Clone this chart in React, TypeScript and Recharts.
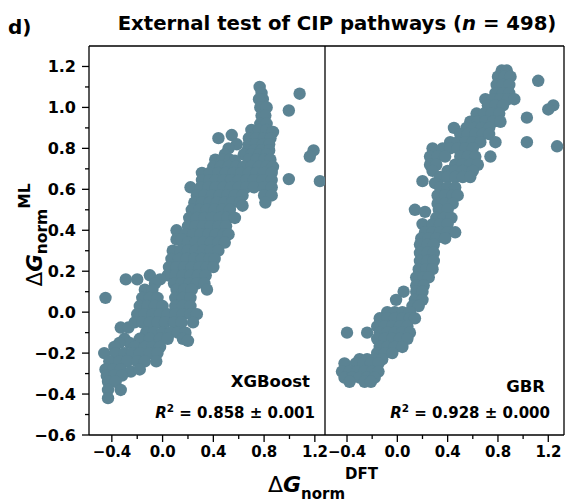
import React from 'react';
import { ScatterChart, Scatter, XAxis, YAxis, ReferenceLine } from 'recharts';

const FONT = '"DejaVu Sans", "Liberation Sans", Arial, sans-serif';
const DOT = '#5B8393';

// Tick values
const yTicks = [-0.6, -0.5, -0.4, -0.3, -0.2, -0.1, 0, 0.1, 0.2, 0.3, 0.4, 0.5, 0.6, 0.7, 0.8, 0.9, 1.0, 1.1, 1.2];
const xTicks = [-0.4, -0.2, 0, 0.2, 0.4, 0.6, 0.8, 1.0, 1.2];

// XGBoost panel: [DFT, ML]
const xgbPoints: [number, number][] = [
  [0.765, 1.10], [0.78, 1.07], [1.08, 1.067], [0.79, 1.04], [0.76, 1.04], [0.77, 1.00], [0.82, 1.00], [0.995, 0.985],
  [0.78, 0.96], [0.81, 0.96], [0.77, 0.92], [0.82, 0.92],
  [0.70, 0.89], [0.76, 0.89], [0.82, 0.89], [0.87, 0.88],
  [0.44, 0.85], [0.545, 0.865], [0.68, 0.85], [0.74, 0.85], [0.80, 0.85], [0.85, 0.85],
  [0.585, 0.82], [0.52, 0.80], [0.68, 0.82], [0.73, 0.82], [0.79, 0.82], [0.84, 0.82],
  [0.67, 0.79], [0.72, 0.79], [0.78, 0.79], [0.84, 0.79], [1.19, 0.79],
  [0.49, 0.77], [0.64, 0.77], [0.70, 0.77], [0.76, 0.77], [0.82, 0.77], [1.16, 0.76],
  [0.415, 0.745], [0.47, 0.745], [0.53, 0.745], [0.57, 0.74], [0.68, 0.745], [0.74, 0.745], [0.80, 0.745], [0.85, 0.745],
  [0.40, 0.71], [0.46, 0.71], [0.52, 0.71], [0.58, 0.71], [0.64, 0.71], [0.70, 0.71], [0.76, 0.71], [0.82, 0.71], [0.87, 0.71],
  [0.31, 0.68], [0.37, 0.68], [0.44, 0.68], [0.50, 0.68], [0.56, 0.68], [0.62, 0.68], [0.68, 0.68], [0.74, 0.68], [0.80, 0.68], [0.86, 0.68],
  [0.31, 0.645], [0.37, 0.645], [0.42, 0.645], [0.48, 0.645], [0.54, 0.645], [0.60, 0.645], [0.66, 0.645], [0.72, 0.645], [0.79, 0.645], [0.86, 0.645], [0.995, 0.65], [1.24, 0.64],
  [0.22, 0.61], [0.30, 0.61], [0.36, 0.61], [0.42, 0.61], [0.48, 0.61], [0.54, 0.61], [0.60, 0.61], [0.66, 0.61], [0.72, 0.61], [0.80, 0.61], [0.86, 0.61],
  [0.27, 0.57], [0.33, 0.57], [0.39, 0.57], [0.45, 0.57], [0.51, 0.57], [0.57, 0.57], [0.63, 0.57], [0.80, 0.57], [0.86, 0.57],
  [0.25, 0.535], [0.31, 0.535], [0.37, 0.535], [0.43, 0.535], [0.49, 0.535], [0.55, 0.535], [0.61, 0.535], [0.81, 0.535],
  [0.23, 0.50], [0.29, 0.50], [0.35, 0.50], [0.41, 0.50], [0.47, 0.50], [0.53, 0.50], [0.63, 0.52],
  [0.21, 0.46], [0.27, 0.46], [0.33, 0.46], [0.39, 0.46], [0.45, 0.46], [0.51, 0.46], [0.57, 0.46],
  [0.20, 0.42], [0.26, 0.42], [0.32, 0.42], [0.38, 0.42], [0.44, 0.42], [0.50, 0.42],
  [0.11, 0.40],
  [0.18, 0.38], [0.24, 0.38], [0.30, 0.38], [0.36, 0.38], [0.42, 0.38], [0.48, 0.38], [0.52, 0.38],
  [0.11, 0.355], [0.15, 0.355],
  [0.20, 0.34], [0.26, 0.34], [0.32, 0.34], [0.38, 0.34], [0.44, 0.34], [0.49, 0.34],
  [0.08, 0.30], [0.14, 0.30], [0.20, 0.30], [0.26, 0.30], [0.32, 0.30], [0.38, 0.30], [0.44, 0.30],
  [0.07, 0.26], [0.13, 0.26], [0.19, 0.26], [0.25, 0.26], [0.31, 0.26], [0.37, 0.26], [0.41, 0.26],
  [0.05, 0.22], [0.11, 0.22], [0.17, 0.22], [0.23, 0.22], [0.29, 0.22], [0.35, 0.22], [0.40, 0.22],
  [-0.10, 0.18], [0.04, 0.18], [0.10, 0.18], [0.16, 0.18], [0.22, 0.18], [0.28, 0.18], [0.34, 0.18],
  [-0.29, 0.16], [-0.20, 0.16], [-0.02, 0.16],
  [-0.06, 0.14], [0.09, 0.14], [0.15, 0.14], [0.21, 0.14], [0.27, 0.14], [0.33, 0.14],
  [-0.14, 0.11], [-0.08, 0.11], [0.11, 0.11], [0.17, 0.11], [0.23, 0.11], [0.35, 0.11],
  [-0.45, 0.07], [-0.16, 0.07], [-0.10, 0.07], [-0.04, 0.07], [0.10, 0.07], [0.16, 0.07], [0.22, 0.07],
  [-0.18, 0.03], [-0.12, 0.03], [-0.06, 0.03], [0.00, 0.03], [0.10, 0.03], [0.16, 0.03], [0.22, 0.03],
  [-0.20, -0.01], [-0.14, -0.01], [-0.08, -0.01], [-0.02, -0.01], [0.04, -0.01], [0.10, -0.01], [0.16, -0.01], [0.22, -0.01], [0.27, -0.01],
  [-0.22, -0.05], [-0.16, -0.05], [-0.10, -0.05], [-0.04, -0.05], [0.02, -0.05], [0.09, -0.05], [0.15, -0.05], [0.24, -0.05],
  [-0.33, -0.075], [-0.27, -0.075],
  [-0.13, -0.10], [-0.07, -0.10], [0.00, -0.10], [0.06, -0.10], [0.12, -0.10], [0.18, -0.10],
  [-0.30, -0.13], [-0.18, -0.13], [-0.10, -0.13], [-0.02, -0.13], [0.04, -0.13], [0.16, -0.13], [0.20, -0.14],
  [-0.26, -0.15], [-0.34, -0.15],
  [-0.38, -0.17], [-0.22, -0.17], [-0.14, -0.17], [-0.08, -0.17], [-0.02, -0.17],
  [-0.46, -0.20], [-0.37, -0.20], [-0.30, -0.20], [-0.24, -0.20], [-0.18, -0.20], [-0.10, -0.20], [-0.04, -0.20],
  [-0.42, -0.24], [-0.34, -0.24], [-0.28, -0.24], [-0.20, -0.24], [-0.14, -0.24], [-0.05, -0.24],
  [-0.45, -0.28], [-0.39, -0.28], [-0.33, -0.28], [-0.25, -0.29], [-0.18, -0.28],
  [-0.44, -0.31], [-0.38, -0.31], [-0.32, -0.31],
  [-0.43, -0.34], [-0.37, -0.34],
  [-0.43, -0.38], [-0.33, -0.38],
  [-0.43, -0.42],
];

// GBR panel: [DFT, ML]
const gbrPoints: [number, number][] = [
  [0.83, 1.18], [0.87, 1.18],
  [0.80, 1.15], [0.85, 1.15], [0.90, 1.15], [1.12, 1.13],
  [0.79, 1.11], [0.84, 1.11], [0.89, 1.11],
  [0.78, 1.07], [0.84, 1.07], [0.89, 1.07],
  [0.70, 1.04], [0.76, 1.04], [0.82, 1.04], [0.88, 1.04], [0.93, 1.04],
  [0.72, 1.01], [0.78, 1.01], [0.84, 1.01], [1.24, 1.01], [1.20, 0.99],
  [0.63, 0.97], [0.69, 0.97], [0.75, 0.97], [0.81, 0.97], [1.03, 0.95],
  [0.58, 0.93], [0.64, 0.93], [0.70, 0.93], [0.76, 0.93], [0.82, 0.93],
  [0.45, 0.90], [0.55, 0.90], [0.61, 0.90], [0.67, 0.90], [0.73, 0.90],
  [0.50, 0.87], [0.56, 0.87], [0.62, 0.87], [0.68, 0.87], [0.73, 0.87],
  [0.42, 0.83], [0.48, 0.83], [0.54, 0.83], [0.60, 0.83], [0.66, 0.83], [0.78, 0.83], [1.03, 0.83], [1.27, 0.81],
  [0.28, 0.80], [0.36, 0.80], [0.42, 0.80], [0.48, 0.80], [0.54, 0.80], [0.60, 0.80],
  [0.26, 0.76], [0.32, 0.76], [0.38, 0.76], [0.50, 0.76], [0.56, 0.76], [0.62, 0.76], [0.74, 0.76],
  [0.26, 0.72], [0.31, 0.72], [0.46, 0.72], [0.52, 0.72], [0.58, 0.72], [0.64, 0.72],
  [0.28, 0.69], [0.40, 0.69], [0.46, 0.69], [0.52, 0.69], [0.60, 0.69],
  [0.34, 0.66], [0.40, 0.66], [0.46, 0.66], [0.52, 0.66], [0.58, 0.66],
  [0.20, 0.64], [0.30, 0.63],
  [0.34, 0.61], [0.40, 0.61], [0.46, 0.61],
  [0.32, 0.57], [0.38, 0.57], [0.44, 0.57], [0.48, 0.57],
  [0.32, 0.53], [0.38, 0.53], [0.44, 0.53],
  [0.14, 0.50], [0.22, 0.49], [0.33, 0.50], [0.40, 0.50],
  [0.31, 0.46], [0.37, 0.46], [0.43, 0.46],
  [0.20, 0.43], [0.28, 0.43], [0.34, 0.43], [0.40, 0.43],
  [0.22, 0.39], [0.28, 0.39], [0.34, 0.39], [0.40, 0.39], [0.46, 0.39],
  [0.19, 0.36], [0.25, 0.36], [0.31, 0.36], [0.38, 0.36],
  [0.18, 0.33], [0.24, 0.33], [0.29, 0.33],
  [0.18, 0.29], [0.24, 0.29], [0.29, 0.29],
  [0.18, 0.25], [0.24, 0.25], [0.29, 0.25],
  [0.17, 0.21], [0.23, 0.21], [0.28, 0.21],
  [0.15, 0.17], [0.21, 0.17], [0.25, 0.17],
  [0.15, 0.13], [0.21, 0.13],
  [0.05, 0.10], [0.15, 0.10], [0.20, 0.10],
  [-0.01, 0.06], [0.14, 0.06], [0.20, 0.06],
  [0.12, 0.03], [0.17, 0.03],
  [-0.08, 0.00], [-0.02, 0.00], [0.04, 0.00], [0.10, 0.00],
  [-0.14, -0.03], [-0.08, -0.03], [-0.02, -0.03], [0.04, -0.03], [0.10, -0.03], [0.14, -0.03],
  [-0.16, -0.07], [-0.10, -0.07], [-0.04, -0.07], [0.02, -0.07], [0.08, -0.07],
  [-0.40, -0.10], [-0.24, -0.10], [-0.14, -0.10], [-0.08, -0.10], [-0.02, -0.10], [0.04, -0.10], [0.10, -0.10],
  [-0.16, -0.13], [-0.10, -0.13], [-0.04, -0.13], [0.02, -0.13], [0.08, -0.13],
  [-0.14, -0.17], [-0.08, -0.17], [-0.02, -0.17], [0.04, -0.17],
  [-0.16, -0.20], [-0.10, -0.20], [-0.04, -0.20],
  [-0.30, -0.23], [-0.24, -0.23], [-0.18, -0.23], [-0.12, -0.23],
  [-0.42, -0.25], [-0.33, -0.25], [-0.27, -0.25], [-0.21, -0.25], [-0.15, -0.25],
  [-0.44, -0.29], [-0.38, -0.29], [-0.32, -0.29], [-0.26, -0.29], [-0.20, -0.29], [-0.15, -0.29],
  [-0.42, -0.32], [-0.36, -0.32], [-0.30, -0.32], [-0.24, -0.32], [-0.18, -0.32],
  [-0.38, -0.34], [-0.26, -0.34], [-0.21, -0.34],
];

const xgbData = xgbPoints.map(([x, y]) => ({ x, y }));
const gbrData = gbrPoints.map(([x, y]) => ({ x, y }));

const fmt = (v: number) => {
  const s = Math.abs(v).toFixed(1);
  return v < -1e-9 ? '\u2212' + s : s;
};

const YTick = (props: any) => {
  const { x, y, payload } = props;
  const v = payload.value as number;
  const major = Math.abs(Math.round(v * 10)) % 2 === 0;
  return (
    <g>
      <line x1={x - (major ? 7 : 4)} x2={x} y1={y} y2={y} stroke="#000" strokeWidth={1.3} />
      {major && (
        <text x={x - 13} y={y} dy="0.36em" textAnchor="end" fontSize={16} fontWeight="bold" fontFamily={FONT} fill="#000">
          {fmt(v)}
        </text>
      )}
    </g>
  );
};

const XTick = (props: any) => {
  const { x, y, payload } = props;
  const v = payload.value as number;
  const major = Math.abs(Math.round(v * 10)) % 4 === 0;
  return (
    <g>
      <line x1={x} x2={x} y1={y} y2={y + (major ? 7 : 4)} stroke="#000" strokeWidth={1.3} />
      {major && (
        <text x={x} y={y + 22} textAnchor="middle" fontSize={15} letterSpacing={-0.3} fontWeight="bold" fontFamily={FONT} fill="#000">
          {fmt(v)}
        </text>
      )}
    </g>
  );
};

const dotShape = (p: any) => <circle cx={p.cx} cy={p.cy} r={6.2} fill={DOT} />;

const axisLine = { stroke: '#000', strokeWidth: 1.3 };
const yDomain: [number, number] = [-0.6, 1.3];
const xDomainLeft: [number, number] = [-0.58, 1.28];
const xDomainRight: [number, number] = [-0.575, 1.325];

export default function App() {
  return (
    <div style={{ position: 'relative', width: 566, height: 503, background: '#fff', fontFamily: FONT }}>
      <style>{'body{margin:0;}'}</style>
      <div style={{ position: 'absolute', left: 0, top: 0 }}>
        <ScatterChart width={345} height={503} margin={{ top: 46, right: 20, bottom: 28, left: 0 }}>
          <XAxis xAxisId="b" dataKey="x" type="number" domain={xDomainLeft} ticks={xTicks} interval={0}
            height={40} tickSize={0} tickMargin={0} tickLine={false} axisLine={axisLine} tick={<XTick />} allowDataOverflow />
          <YAxis yAxisId="l" dataKey="y" type="number" domain={yDomain} ticks={yTicks} interval={0}
            width={89} tickSize={0} tickMargin={0} tickLine={false} axisLine={axisLine} tick={<YTick />} allowDataOverflow />
          <Scatter xAxisId="b" yAxisId="l" data={xgbData} fill={DOT} shape={dotShape} isAnimationActive={false} />
          <ReferenceLine xAxisId="b" yAxisId="l" y={yDomain[1]} stroke="#000" strokeWidth={1.3} ifOverflow="visible" />
          <ReferenceLine xAxisId="b" yAxisId="l" x={xDomainLeft[1]} stroke="#000" strokeWidth={1.3} ifOverflow="visible" />
        </ScatterChart>
      </div>
      <div style={{ position: 'absolute', left: 325, top: 0 }}>
        <ScatterChart width={241} height={503} margin={{ top: 46, right: 2, bottom: 28, left: 0 }}>
          <XAxis xAxisId="b" dataKey="x" type="number" domain={xDomainRight} ticks={xTicks} interval={0}
            height={40} tickSize={0} tickMargin={0} tickLine={false} axisLine={axisLine} tick={<XTick />} allowDataOverflow />
          <YAxis yAxisId="l" dataKey="y" type="number" domain={yDomain} hide allowDataOverflow />
          <Scatter xAxisId="b" yAxisId="l" data={gbrData} fill={DOT} shape={dotShape} isAnimationActive={false} />
          <ReferenceLine xAxisId="b" yAxisId="l" y={yDomain[1]} stroke="#000" strokeWidth={1.3} ifOverflow="visible" />
          <ReferenceLine xAxisId="b" yAxisId="l" x={xDomainRight[1]} stroke="#000" strokeWidth={1.3} ifOverflow="visible" />
        </ScatterChart>
      </div>
      <svg width={566} height={503} style={{ position: 'absolute', left: 0, top: 0, pointerEvents: 'none' }}>
        <g fontFamily={FONT} fill="#000">
          <text x={8} y={34} fontSize={20} fontWeight="bold">d)</text>
          <text x={337} y={30} fontSize={19.7} fontWeight="bold" textAnchor="middle">
            External test of CIP pathways (<tspan fontStyle="italic">n</tspan> = 498)
          </text>
          <text x={323} y={492} textAnchor="middle" fontSize={22}>
            <tspan>Δ</tspan>
            <tspan fontWeight="bold" fontStyle="italic">G</tspan>
            <tspan fontWeight="bold" fontSize={15} dy={7}>norm</tspan>
            <tspan fontWeight="bold" fontSize={15} dy={-20}>DFT</tspan>
          </text>
          <text transform="rotate(-90)" x={-235} y={42} textAnchor="middle" fontSize={21.5}>
            <tspan>Δ</tspan>
            <tspan fontWeight="bold" fontStyle="italic">G</tspan>
            <tspan fontWeight="bold" fontSize={15.5} dy={5}>norm</tspan>
            <tspan fontWeight="bold" fontSize={15.5} dy={-17}>ML</tspan>
          </text>
          <text x={310} y={387} textAnchor="end" fontSize={16.5} fontWeight="bold">XGBoost</text>
          <text x={315} y={418} textAnchor="end" fontSize={15} fontWeight="bold">
            <tspan fontStyle="italic">R</tspan>
            <tspan fontSize={10.5} dy={-6}>2</tspan>
            <tspan dy={6}> = 0.858 ± 0.001</tspan>
          </text>
          <text x={545} y={392} textAnchor="end" fontSize={16.5} fontWeight="bold">GBR</text>
          <text x={550} y={418} textAnchor="end" fontSize={15} fontWeight="bold">
            <tspan fontStyle="italic">R</tspan>
            <tspan fontSize={10.5} dy={-6}>2</tspan>
            <tspan dy={6}> = 0.928 ± 0.000</tspan>
          </text>
        </g>
      </svg>
    </div>
  );
}
